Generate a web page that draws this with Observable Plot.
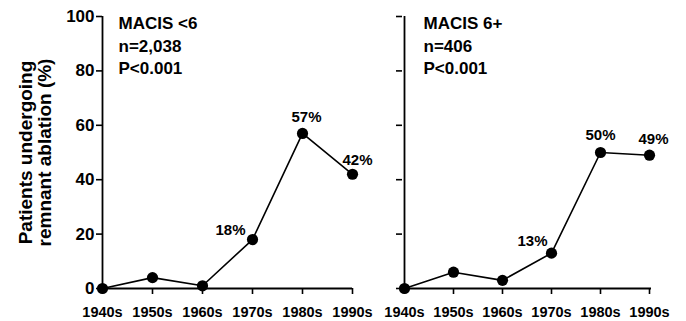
<!DOCTYPE html>
<html>
<head>
<meta charset="utf-8">
<script src="https://cdn.jsdelivr.net/npm/d3@7"></script>
<script src="https://cdn.jsdelivr.net/npm/@observablehq/plot@0.6"></script>
<style>
  html, body { margin: 0; padding: 0; background: #fff; }
  #wrap { position: relative; width: 686px; height: 321px; }
  #wrap svg { position: absolute; top: 0; display: block; overflow: visible; }
</style>
</head>
<body>
<div id="wrap"></div>
<script>
const decades = ["1940s", "1950s", "1960s", "1970s", "1980s", "1990s"];
const macisLow = [0, 4, 1, 18, 57, 42];
const macisHigh = [0, 6, 3, 13, 50, 49];
const lowLabels = ["", "", "", "18%", "57%", "42%"];
const highLabels = ["", "", "", "13%", "50%", "49%"];
const yTicks = [0, 20, 40, 60, 80, 100];
const lowTitle = "MACIS <6\nn=2,038\nP<0.001";
const highTitle = "MACIS 6+\nn=406\nP<0.001";
const yLabel = "Patients undergoing\nremnant ablation (%)";

const FONT = "'Liberation Sans', Arial, Helvetica, sans-serif";

function rows(vals, labels) {
  return decades.map((d, i) => ({decade: d, value: vals[i], label: labels[i]}));
}

// label offsets (visual placement)
const lowOffsets = {"18%": [-22, -9], "57%": [4, -16], "42%": [5, -14]};
const highOffsets = {"13%": [-19, -12], "50%": [0, -17], "49%": [4, -16]};

function panel({data, width, marginLeft, marginRight, showYLabels, title, titleDx, offsets, withYLabel}) {
  const marks = [
    Plot.axisY({
      ticks: yTicks, tickSize: 6, tickPadding: 2,
      strokeWidth: 1.6, stroke: "#000",
      tickFormat: showYLabels ? (d => d) : (() => ""),
      fontSize: 17, fontWeight: "bold", fontFamily: FONT, fill: "#000",
      label: null
    }),
    Plot.axisX({
      tickSize: 6, tickPadding: 12,
      strokeWidth: 1.6, stroke: "#000",
      fontSize: 14.5, fontWeight: "bold", fontFamily: FONT, fill: "#000",
      label: null
    }),
    Plot.ruleY([0], {stroke: "#000", strokeWidth: 1.8}),
    Plot.ruleX([decades[0]], {y1: 0, y2: 100, stroke: "#000", strokeWidth: 1.8}),
    Plot.line(data, {x: "decade", y: "value", stroke: "#000", strokeWidth: 1.6}),
    Plot.dot(data, {x: "decade", y: "value", r: 5.6, fill: "#000", stroke: "none"}),
    Plot.text([title], {
      frameAnchor: "top-left", textAnchor: "start", lineAnchor: "top",
      dx: titleDx, dy: -3, lineHeight: 1.32,
      fontSize: 17, fontWeight: "bold", fontFamily: FONT, fill: "#000"
    })
  ];
  for (const [txt, [dx, dy]] of Object.entries(offsets)) {
    marks.push(Plot.text(data.filter(d => d.label === txt), {
      x: "decade", y: "value", text: "label", dx, dy,
      fontSize: 15, fontWeight: "bold", fontFamily: FONT, fill: "#000"
    }));
  }
  if (withYLabel) {
    marks.push(Plot.text([yLabel], {
      frameAnchor: "left", rotate: -90, dx: -67,
      textAnchor: "middle", lineAnchor: "middle", lineHeight: 1.0,
      fontSize: 19, fontWeight: "bold", fontFamily: FONT, fill: "#000"
    }));
  }
  return Plot.plot({
    width, height: 321,
    marginLeft, marginRight, marginTop: 16, marginBottom: 33,
    style: {fontFamily: FONT, background: "transparent", color: "#000", overflow: "visible"},
    x: {type: "point", domain: decades, padding: 0},
    y: {domain: [0, 100]},
    marks
  });
}

const wrap = document.getElementById("wrap");
const left = panel({
  data: rows(macisLow, lowLabels), width: 360, marginLeft: 102, marginRight: 8,
  showYLabels: true, title: lowTitle, titleDx: 16, offsets: lowOffsets, withYLabel: true
});
left.style.left = "0px";
const right = panel({
  data: rows(macisHigh, highLabels), width: 326, marginLeft: 42, marginRight: 35,
  showYLabels: false, title: highTitle, titleDx: 21, offsets: highOffsets, withYLabel: false
});
right.style.left = "360px";
wrap.append(right, left);
</script>
</body>
</html>
